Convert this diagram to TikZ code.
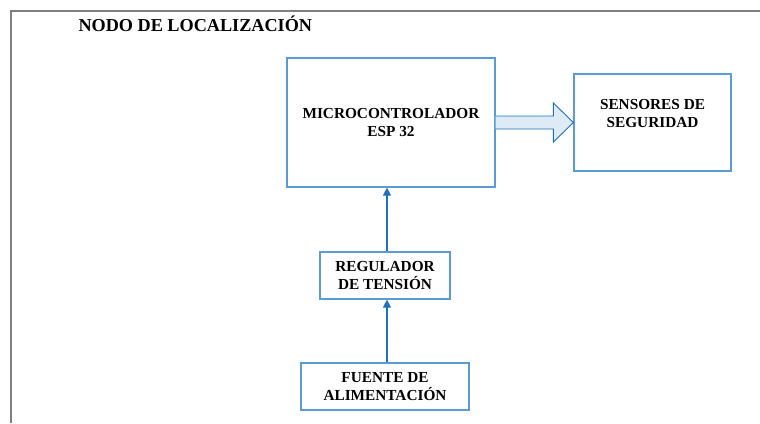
\documentclass[tikz,border=0pt]{standalone}
\usepackage{fontspec}
\setmainfont{Liberation Serif}
\usetikzlibrary{arrows.meta,calc}
\definecolor{boxblue}{HTML}{5B9BD5}
\definecolor{arrblue}{HTML}{1F72BA}
\definecolor{fillblue}{HTML}{DEEBF7}
\definecolor{framegray}{HTML}{7F7F7F}
\tikzset{
  blockbox/.style={draw=boxblue, line width=1.2pt, inner sep=0pt, align=center,
    font=\bfseries\fontsize{15.3}{18}\selectfont},
  boxtext/.style={inner sep=0pt, align=center, font=\bfseries\fontsize{15.3}{18}\selectfont},
  conn/.style={draw=arrblue, line width=1.1pt, -{Triangle[length=8pt,width=8pt]}},
  bigarrow/.style={draw=arrblue, line width=0.9pt, fill=fillblue, line join=miter},
  framestyle/.style={draw=framegray, line width=1.5pt}
}
\begin{document}
\begin{tikzpicture}[x=1pt,y=-1pt]
\useasboundingbox (0,0) rectangle (760,423);
\draw[framestyle] (11,423) -- (11,11) -- (760,11);
\node[anchor=base west, inner sep=0pt, font=\bfseries\fontsize{18.2}{21}\selectfont] (title) at (78.3,31.7) {NODO DE LOCALIZACIÓN};

\node[blockbox, minimum width=208pt, minimum height=129pt] (mc) at (391,122.5) {MICROCONTROLADOR\\ESP 32};
\node[blockbox, minimum width=157pt, minimum height=97pt] (se) at (652.5,122.5) {};
\node[boxtext] (set) at ($(se.center)+(0,-8.5)$) {SENSORES DE\\SEGURIDAD};
\node[blockbox, minimum width=130pt, minimum height=47pt] (rg) at (385,275.5) {REGULADOR\\DE TENSIÓN};
\node[blockbox, minimum width=168pt, minimum height=47pt] (fu) at (385,386.5) {FUENTE DE\\ALIMENTACIÓN};

\path[bigarrow] ($(mc.east)+(0,-6.5)$) -- ($(se.west)+(-20,-6.5)$) -- ($(se.west)+(-20,-19.5)$)
  -- (se.west) -- ($(se.west)+(-20,19.5)$) -- ($(se.west)+(-20,6.5)$) -- ($(mc.east)+(0,6.5)$);

\draw[conn] ([xshift=2pt]rg.north) -- ([xshift=2pt]rg.north |- mc.south);
\draw[conn] ([xshift=2pt]fu.north) -- ([xshift=2pt]fu.north |- rg.south);
\end{tikzpicture}
\end{document}
